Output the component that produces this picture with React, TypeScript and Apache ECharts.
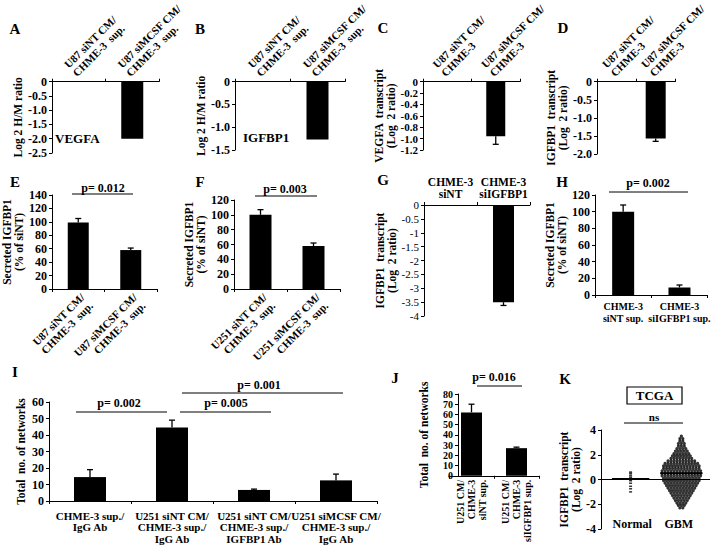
import React, { useEffect, useRef } from 'react';
import * as echarts from 'echarts';

const FONT = "'Liberation Serif', 'Times New Roman', serif";

// ---------- data ----------
const catsA = ['U87 siNT CM/\nCHME-3  sup.', 'U87 siMCSF CM/\nCHME-3  sup.'];
const valsA = [0, -2.0];
const valsB = [0, -1.27];
const catsC = ['U87 siNT CM/\nCHME-3', 'U87 siMCSF CM/\nCHME-3'];
const valsC = [0, -0.96];
const errC = [0, 0.14];
const valsD = [0, -1.57];
const errD = [0, 0.08];
const catsE = ['U87 siNT CM/\nCHME-3  sup.', 'U87 siMCSF CM/\nCHME-3  sup.'];
const valsE = [99, 58];
const errE = [6, 3];
const catsF = ['U251 siNT CM/\nCHME-3  sup.', 'U251 siMCSF CM/\nCHME-3  sup.'];
const valsF = [100, 58];
const errF = [7, 4];
const catsG = ['CHME-3\nsiNT', 'CHME-3\nsiIGFBP1'];
const valsG = [0, -3.5];
const errG = [0, 0.12];
const catsH = ['CHME-3\nsiNT sup.', 'CHME-3\nsiIGFBP1 sup.'];
const valsH = [100, 9];
const errH = [8, 3];
const catsI = [
  'CHME-3 sup./\nIgG Ab',
  'U251 siNT CM/\nCHME-3 sup./\nIgG Ab',
  'U251 siNT CM/\nCHME-3 sup./\nIGFBP1 Ab',
  'U251 siMCSF CM/\nCHME-3 sup./\nIgG Ab',
];
const valsI = [14.5, 44.5, 6.7, 12.5];
const errI = [4.5, 4.5, 0.5, 3.8];
const catsJ = ['U251 CM/\nCHME-3\nsiNT sup.', 'U251 CM/\nCHME-3\nsiIGFBP1 sup.'];
const valsJ = [62, 27];
const errJ = [8, 1];

const kGroups = ['Normal', 'GBM'];
const kLabelTicks = [1, 2.5];
const kCenters = [0.95, 2.58];
const kMedians = [0.05, 0.5];
const normalValues = [0.6, 0.5, 0.35, 0.2, 0.1, 0.05, 0.0, -0.1, -0.3, -0.55, -0.75, -1.0];
const gbmLevels = [3.5, 3.3, 3.1, 2.9, 2.7, 2.5, 2.3, 2.1, 1.9, 1.7, 1.5, 1.3, 1.1, 0.9, 0.7, 0.5, 0.3, 0.1,
  -0.1, -0.3, -0.5, -0.7, -0.9, -1.1, -1.3, -1.5, -1.7, -1.9, -2.1, -2.3];
const gbmCounts = [1, 2, 2, 3, 3, 4, 5, 6, 7, 8, 10, 12, 13, 13, 14, 14, 14, 13,
  13, 12, 11, 10, 9, 8, 7, 6, 5, 4, 3, 2];

// ---------- helpers ----------
const fmt1 = (v: number) => (Math.abs(v) < 1e-9 ? '0' : v.toFixed(1));
const fmtG = (v: number) => String(Math.round(v * 10) / 10);
const fmtInt = (v: number) => String(Math.round(v));

const renderErr = (params: any, api: any) => {
  const i = api.value(0);
  const v = api.value(1);
  const e = api.value(2);
  const p0 = api.coord([i, v]);
  const p1 = api.coord([i, e]);
  return {
    type: 'group',
    children: [
      { type: 'line', shape: { x1: p0[0], y1: p0[1], x2: p1[0], y2: p1[1] }, style: { stroke: '#000', lineWidth: 1.3 } },
      { type: 'line', shape: { x1: p1[0] - 3, y1: p1[1], x2: p1[0] + 3, y2: p1[1] }, style: { stroke: '#000', lineWidth: 1.3 } },
    ],
  };
};

type Panel = {
  left: number; top: number; width: number; height: number;
  min: number; max: number; interval: number; fmt: (v: number) => string;
  cats: string[]; vals: number[]; errs?: number[]; barWidth: number;
  xPos: 'top' | 'bottom'; rotate: number; xMargin: number; catFont: number; catLH: number;
  align?: string; vAlign?: string;
  yName: string; nameGap: number; yBold?: boolean; yOffset?: number; yFont?: number;
};

const topRot = { xPos: 'top' as const, rotate: -45, xMargin: 3, catFont: 11, catLH: 12, align: 'left', vAlign: 'bottom' };
const botRot = { xPos: 'bottom' as const, rotate: 45, xMargin: 2, catFont: 11, catLH: 12, align: 'right', vAlign: 'top' };

const panels: Panel[] = [
  { left: 52, top: 75, width: 107, height: 78, min: -2.5, max: 0, interval: 0.5, fmt: fmt1, cats: catsA, vals: valsA, barWidth: 22,
    ...topRot, yName: 'Log 2 H/M ratio', nameGap: 27 },
  { left: 235, top: 73, width: 110, height: 77, min: -1.5, max: 0, interval: 0.5, fmt: fmt1, cats: catsA, vals: valsB, barWidth: 22,
    ...topRot, yName: 'Log 2 H/M ratio', nameGap: 27 },
  { left: 423, top: 72, width: 97, height: 78, min: -1.2, max: 0, interval: 0.2, fmt: fmt1, cats: catsC, vals: valsC, errs: errC, barWidth: 19,
    ...topRot, yName: 'VEGFA  transcript\n(Log  2 ratio)', nameGap: 25, yFont: 11 },
  { left: 597, top: 74, width: 96, height: 80, min: -2, max: 0, interval: 0.5, fmt: fmt1, cats: catsC, vals: valsD, errs: errD, barWidth: 20,
    ...topRot, yName: 'IGFBP1  transcript\n(Log  2 ratio)', nameGap: 17 },
  { left: 52, top: 195, width: 105, height: 94, min: 0, max: 140, interval: 20, fmt: fmtInt, cats: catsE, vals: valsE, errs: errE, barWidth: 21,
    ...botRot, yName: 'Secreted IGFBP1\n(% of siNT)', nameGap: 27 },
  { left: 234, top: 200, width: 106, height: 89, min: 0, max: 120, interval: 20, fmt: fmtInt, cats: catsF, vals: valsF, errs: errF, barWidth: 22,
    ...botRot, yName: 'Secreted IGFBP1\n(% of siNT)', nameGap: 27 },
  { left: 424, top: 205, width: 106, height: 111, min: -4, max: 0, interval: 0.5, fmt: fmtG, cats: catsG, vals: valsG, errs: errG, barWidth: 21,
    xPos: 'top', rotate: 0, xMargin: 5, catFont: 11.5, catLH: 12, yName: 'IGFBP1  transcript\n(Log  2 ratio)', nameGap: 26, yBold: false, yFont: 11 },
  { left: 595, top: 195, width: 115, height: 100, min: 0, max: 120, interval: 20, fmt: fmtInt, cats: catsH, vals: valsH, errs: errH, barWidth: 22,
    xPos: 'bottom', rotate: 0, xMargin: 5, catFont: 10, catLH: 12, yName: 'Secreted IGFBP1\n(% of siNT)', nameGap: 22 },
  { left: 49, top: 402, width: 328, height: 99, min: 0, max: 60, interval: 10, fmt: fmtInt, cats: catsI, vals: valsI, errs: errI, barWidth: 32,
    xPos: 'bottom', rotate: 0, xMargin: 9, catFont: 11, catLH: 11.5, yName: 'Total  no. of networks', nameGap: 22 },
  { left: 449, top: 394, width: 90, height: 83, min: 0, max: 80, interval: 10, fmt: fmtInt, cats: catsJ, vals: valsJ, errs: errJ, barWidth: 21,
    xPos: 'bottom', rotate: 90, xMargin: 4, catFont: 10, catLH: 11, yName: 'Total  no. of networks', nameGap: 28, yOffset: -9, yFont: 10 },
];

const txt = (text: string, x: number, y: number, size: number, align = 'center') => ({
  type: 'text', x, y, silent: true,
  style: { text, fill: '#000', font: `bold ${size}px ${FONT}`, textAlign: align, textVerticalAlign: 'middle' },
});
const hline = (x1: number, x2: number, y: number) => ({
  type: 'line', silent: true, shape: { x1, y1: y, x2, y2: y }, style: { stroke: '#000', lineWidth: 1 },
});

function buildOption() {
  const grid: any[] = [];
  const xAxis: any[] = [];
  const yAxis: any[] = [];
  const series: any[] = [];

  panels.forEach((p, i) => {
    grid.push({ left: p.left, top: p.top, width: p.width, height: p.height, containLabel: false });
    const axisLabel: any = {
      interval: 0, rotate: p.rotate, margin: p.xMargin, color: '#000', fontFamily: FONT,
      fontWeight: 'bold', fontSize: p.catFont, lineHeight: p.catLH,
    };
    if (p.align) axisLabel.align = p.align;
    if (p.vAlign) axisLabel.verticalAlign = p.vAlign;
    xAxis.push({
      type: 'category', gridIndex: i, data: p.cats, position: p.xPos, boundaryGap: true,
      axisLine: { show: true, onZero: false, lineStyle: { color: '#000', width: 1 } },
      axisTick: { show: true, length: 3, lineStyle: { color: '#000' } },
      axisLabel,
      splitLine: { show: false },
    });
    yAxis.push({
      type: 'value', gridIndex: i, min: p.min, max: p.max, interval: p.interval, offset: p.yOffset ?? 0,
      name: p.yName, nameLocation: 'middle', nameGap: p.nameGap,
      nameTextStyle: { color: '#000', fontFamily: FONT, fontWeight: 'bold', fontSize: 11.5, lineHeight: 12 },
      axisLine: { show: true, lineStyle: { color: '#000', width: 1 } },
      axisTick: { show: true, length: 3, lineStyle: { color: '#000' } },
      axisLabel: {
        formatter: p.fmt, margin: 5, color: '#000', fontFamily: FONT, showMinLabel: true, showMaxLabel: true,
        fontWeight: p.yBold === false ? 'normal' : 'bold', fontSize: p.yFont ?? 12,
      },
      splitLine: { show: false },
    });
    series.push({
      type: 'bar', xAxisIndex: i, yAxisIndex: i, data: p.vals, barWidth: p.barWidth,
      itemStyle: { color: '#000' }, silent: true,
    });
    if (p.errs) {
      const errs = p.errs;
      const data = p.vals
        .map((v, k) => [k, v, v + (v < 0 ? -1 : 1) * errs[k]])
        .filter((_, k) => errs[k] > 0);
      series.push({
        type: 'custom', xAxisIndex: i, yAxisIndex: i, renderItem: renderErr, data,
        encode: { x: 0, y: [1, 2] }, z: 5, silent: true,
      });
    }
  });

  // ---------- panel K ----------
  const ki = panels.length;
  grid.push({ left: 601, top: 430, width: 111, height: 99, containLabel: false });
  xAxis.push({
    type: 'value', gridIndex: ki, min: 0, max: 3.5, interval: 0.5,
    axisLine: { show: false, onZero: false }, axisTick: { show: false }, splitLine: { show: false },
    axisLabel: {
      margin: -5, verticalAlign: 'middle', color: '#000', fontFamily: FONT, fontWeight: 'bold', fontSize: 12,
      formatter: (v: number) => {
        const idx = kLabelTicks.findIndex((t) => Math.abs(t - v) < 1e-6);
        return idx >= 0 ? kGroups[idx] : '';
      },
    },
  });
  yAxis.push({
    type: 'value', gridIndex: ki, min: -4, max: 4, interval: 2,
    name: 'IGFBP1  transcript\n(Log  2 ratio)', nameLocation: 'middle', nameGap: 18,
    nameTextStyle: { color: '#000', fontFamily: FONT, fontWeight: 'bold', fontSize: 11.5, lineHeight: 12 },
    axisLine: { show: true, onZero: false, lineStyle: { color: '#000', width: 1 } },
    axisTick: { show: true, length: 3, lineStyle: { color: '#000' } },
    axisLabel: { margin: 5, color: '#000', fontFamily: FONT, fontWeight: 'bold', fontSize: 12, showMinLabel: true, showMaxLabel: true },
    splitLine: { show: false },
  });
  const spacing = 0.095;
  const gbmPoints: number[][] = [];
  gbmLevels.forEach((lv, r) => {
    const n = gbmCounts[r];
    for (let j = 0; j < n; j++) gbmPoints.push([kCenters[1] + (j - (n - 1) / 2) * spacing, lv]);
  });
  series.push({
    type: 'scatter', xAxisIndex: ki, yAxisIndex: ki, silent: true,
    data: normalValues.map((v) => [kCenters[0], v]),
    symbol: 'rect', symbolSize: [3, 1.5], itemStyle: { color: '#000' },
    markLine: {
      silent: true, symbol: ['none', 'none'], label: { show: false },
      lineStyle: { color: '#000', width: 1, type: 'solid' }, data: [{ yAxis: 0 }],
    },
  });
  series.push({
    type: 'scatter', xAxisIndex: ki, yAxisIndex: ki, silent: true, data: gbmPoints,
    symbol: 'circle', symbolSize: 3.2, itemStyle: { color: '#000' },
  });
  const halfW = [0.6, 0.68];
  kMedians.forEach((m, g) => {
    series.push({
      type: 'line', xAxisIndex: ki, yAxisIndex: ki, silent: true, symbol: 'none', z: 6,
      data: [[kCenters[g] - halfW[g], m], [kCenters[g] + halfW[g], m]],
      lineStyle: { color: '#000', width: 2 },
    });
  });

  const graphic: any[] = [
    txt('A', 15, 29, 15), txt('B', 200, 29, 15), txt('C', 383, 28, 15), txt('D', 563, 28, 15),
    txt('E', 15, 182, 15), txt('F', 200, 182, 15), txt('G', 383, 180, 15), txt('H', 562, 182, 15),
    txt('I', 15, 372, 15), txt('J', 395, 378, 15), txt('K', 565, 379, 15),
    txt('VEGFA', 55, 138, 13, 'left'), txt('IGFBP1', 243, 137, 13, 'left'),
    txt('p= 0.012', 103, 188, 12), hline(72, 133, 194),
    txt('p= 0.003', 285, 189, 12), hline(255, 317, 196),
    txt('p= 0.002', 648, 183, 12), hline(609, 688, 192),
    txt('p= 0.002', 119, 403, 12), hline(76, 167, 412),
    txt('p= 0.005', 226, 403, 12), hline(180, 271, 412),
    txt('p= 0.001', 259, 385, 12), hline(182, 343, 393),
    txt('p= 0.016', 494, 377, 12), hline(477, 522, 386),
    txt('ns', 654, 417, 11), hline(624, 683, 423),
    { type: 'rect', silent: true, shape: { x: 627, y: 387, width: 55, height: 17 }, style: { fill: '#fff', stroke: '#000', lineWidth: 1.2 } },
    txt('TCGA', 654.5, 395.5, 13),
  ];

  return {
    animation: false,
    backgroundColor: '#fff',
    textStyle: { fontFamily: FONT },
    grid, xAxis, yAxis, series, graphic,
  };
}

export default function App() {
  const ref = useRef<HTMLDivElement>(null);
  useEffect(() => {
    if (!ref.current) return;
    const chart = echarts.init(ref.current, undefined, { renderer: 'svg' });
    chart.setOption(buildOption() as any);
    return () => chart.dispose();
  }, []);
  return (
    <div
      ref={ref}
      style={{ position: 'absolute', left: 0, top: 0, width: 713, height: 545, background: '#fff' }}
    />
  );
}
